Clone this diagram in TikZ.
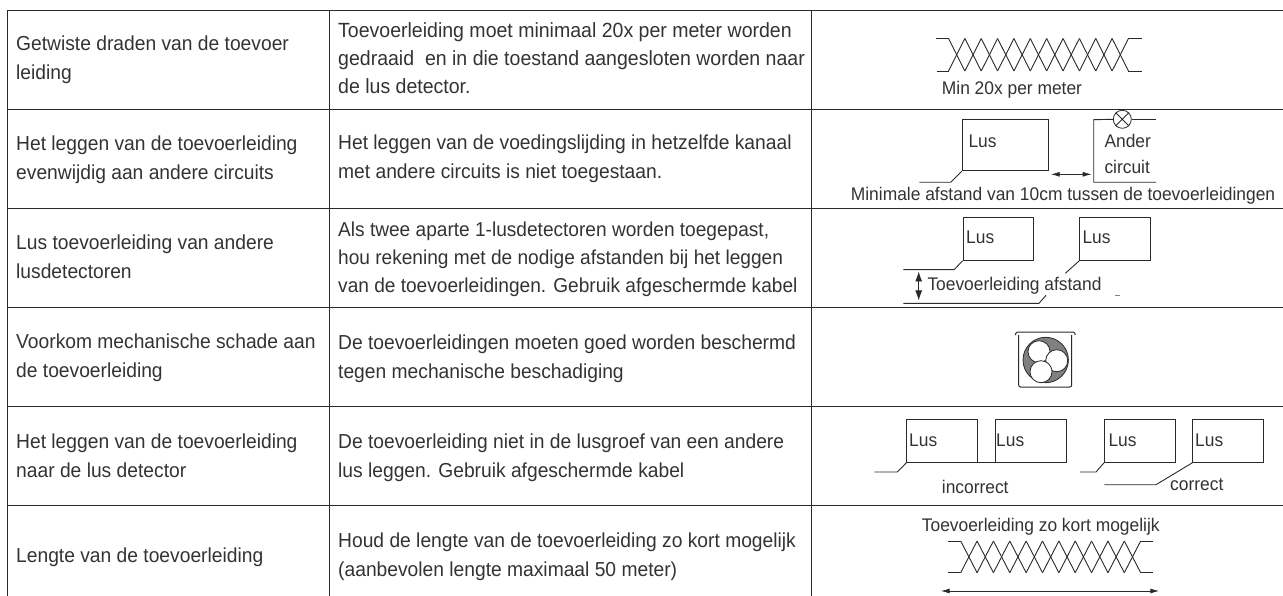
\documentclass[tikz,border=0pt]{standalone}
\usepackage{fontspec}
\setmainfont[FakeStretch=0.95]{Liberation Sans}
\usetikzlibrary{arrows.meta}
\definecolor{ink}{HTML}{333333}
\definecolor{rule}{HTML}{2A2A2A}
\newcommand{\twistpair}[3]{% x-start, y-top, y-bottom
  \foreach \k in {0,...,10}{
    \pgfmathsetmacro{\xa}{#1+16.36*\k}
    \pgfmathsetmacro{\xb}{#1+16.36*(\k+1)}
    \pgfmathtruncatemacro{\oddk}{mod(\k,2)}
    \ifnum\oddk=0
      \draw[wire] (\xa,#2) -- (\xb,#3);
      \draw[wire] (\xa,#3) -- (\xb,#2);
    \else
      \draw[wire] (\xa,#3) -- (\xb,#2);
      \draw[wire] (\xa,#2) -- (\xb,#3);
    \fi
  }
}
\tikzset{
  grid/.style={draw=rule,line width=1pt},
  wire/.style={draw=rule,line width=0.9pt},
  cell/.style={anchor=base west,inner sep=0pt,align=left,text=ink,font=\fontsize{20.25}{29}\selectfont},
  lbl/.style={anchor=base west,inner sep=0pt,text=ink,font=\fontsize{18.3}{24}\selectfont},
  lusbox/.style={draw=rule,line width=1.1pt,anchor=north west,inner sep=0pt,minimum width=#1,minimum height=43pt},
  dim/.style={wire,{Latex[length=9pt,width=5pt]}-{Latex[length=9pt,width=5pt]}},
  dimv/.style={wire,{Latex[length=10pt,width=7pt]}-{Latex[length=10pt,width=7pt]}},
}
\begin{document}
\begin{tikzpicture}[x=1pt,y=-1pt]
\useasboundingbox (0,0) rectangle (1283,596);
% table grid
\coordinate (tl) at (7,10.5);
\coordinate (tr) at (1283,10.5);
\draw[grid] (tl) -- (tr);
\foreach \yy in {109.5,208.5,307,406.7,505.5}{\draw[grid] (7,\yy) -- (1283,\yy);}
\foreach \xx in {7,329,811}{\draw[grid] (\xx,10.5) -- (\xx,596);}
% column 1
\node[cell] (a1) at (16,80) {Getwiste draden van de toevoer\\leiding};
\node[cell] (a2) at (16,180) {Het leggen van de toevoerleiding\\evenwijdig aan andere circuits};
\node[cell] (a3) at (16,279) {Lus toevoerleiding van andere\\lusdetectoren};
\node[cell] (a4) at (16,377) {Voorkom mechanische schade aan\\de toevoerleiding};
\node[cell] (a5) at (16,477) {Het leggen van de toevoerleiding\\naar de lus detector};
\node[cell] (a6) at (16,562) {Lengte van de toevoerleiding};
% column 2
\node[cell,font=\fontsize{20.55}{28}\selectfont] (b1) at (338,94) {Toevoerleiding moet minimaal 20x per meter worden\\gedraaid\ \ en in die toestand aangesloten worden naar\\de lus detector.};
\node[cell] (b2) at (338,179) {Het leggen van de voedingslijding in hetzelfde kanaal\\met andere circuits is niet toegestaan.};
\node[cell,font=\fontsize{20.1}{28.5}\selectfont] (b3) at (338,293) {Als twee aparte 1-lusdetectoren worden toegepast,\\hou rekening met de nodige afstanden bij het leggen\\van de toevoerleidingen. Gebruik afgeschermde kabel};
\node[cell] (b4) at (338,378) {De toevoerleidingen moeten goed worden beschermd\\tegen mechanische beschadiging};
\node[cell] (b5) at (338,477) {De toevoerleiding niet in de lusgroef van een andere\\lus leggen. Gebruik afgeschermde kabel};
\node[cell] (b6) at (338,576) {Houd de lengte van de toevoerleiding zo kort mogelijk\\(aanbevolen lengte maximaal 50 meter)};
% row 1 drawing
\twistpair{948.5}{38.5}{71}
\draw[wire] (935.7,38.5) -- (948.5,38.5) (936.5,71) -- (948.5,71) (1128.4,38.8) -- (1142,38.8) (1128.4,71) -- (1142,71);
\node[lbl] (t1) at (941.7,95) {Min 20x per meter};
% row 2 drawing
\node[lusbox=86.6pt,minimum height=51.3pt] (l21) at (961.7,119) {};
\node[lbl] at (968.3,148) {Lus};
\coordinate (l21a) at (950.7,182.3);
\coordinate (l21b) at (919.3,182.3);
\draw[wire] (l21.south west) -- (l21a) -- (l21b);
\coordinate (c1) at (1093.7,119.7);
\coordinate (c2) at (1093.7,182.3);
\coordinate (c3) at (1156,182.3);
\coordinate (c4) at (1156,119.3);
\node[draw=rule,line width=0.8pt,circle,inner sep=0pt,minimum size=18pt] (lamp) at (1122.3,119.3) {};
\draw[wire] (lamp.west) -- (c1) -- (c2) -- (c3);
\draw[wire] (lamp.east) -- (c4);
\draw[wire] (lamp.north west) -- (lamp.south east) (lamp.north east) -- (lamp.south west);
\node[lbl] (anl) at (1104.3,147.7) {Ander};
\node[lbl] (cir) at (1104.3,174) {circuit};
\coordinate (d1) at (1050.7,174.3);
\coordinate (d2) at (1091.7,174.3);
\draw[dim] (d1) -- (d2);
\node[lbl] (t2) at (850.7,201) {Minimale afstand van 10cm tussen de toevoerleidingen};
% row 3 drawing
\node[lusbox=70.6pt] (l31) at (962.7,216.7) {};
\node[lusbox=71pt] (l32) at (1079.3,216.7) {};
\node[lbl] at (966,243.3) {Lus};
\node[lbl] at (1082.3,243.3) {Lus};
\coordinate (p1) at (954,269.7);
\coordinate (p2) at (903.3,269.7);
\coordinate (p3) at (1065.3,273.3);
\coordinate (p4) at (1046,295.3);
\coordinate (p5) at (1039,303.3);
\coordinate (p6) at (903.3,303.3);
\draw[wire] (l31.south west) -- (p1) -- (p2);
\draw[wire] (l32.south west) -- (p3);
\draw[wire] (p4) -- (p5) -- (p6);
\coordinate (q1) at (918.7,271.5);
\coordinate (q2) at (918.7,300.5);
\draw[dimv] (q1) -- (q2);
\node[lbl] (t3) at (927.3,290.7) {Toevoerleiding afstand};
\draw[draw=gray,line width=0.6pt] (1115,295.3) -- (1120,295.3);
% row 4 drawing
\draw[wire,line width=1pt,rounded corners=1.5pt] (1015.7,335) -- (1015.7,332) -- (1075,332) -- (1075,335);
\draw[wire,line width=1pt,rounded corners=2pt] (1018.7,335) -- (1018.7,387) -- (1071.7,387) -- (1071.7,335);
\node[draw=rule,line width=0.8pt,fill=black!50,circle,inner sep=0pt,minimum size=45.4pt] (cable) at (1045.7,360) {};
\node[draw=rule,line width=0.8pt,fill=white,circle,inner sep=0pt,minimum size=22pt] (w1) at (1039,351.7) {};
\node[draw=rule,line width=0.8pt,fill=white,circle,inner sep=0pt,minimum size=22pt] (w2) at (1056.7,360.7) {};
\node[draw=rule,line width=0.8pt,fill=white,circle,inner sep=0pt,minimum size=22pt] (w3) at (1041,371.7) {};
% row 5 drawing
\node[lusbox=71pt] (l51) at (906.3,418.7) {};
\node[lusbox=71pt] (l52) at (994.7,418.7) {};
\node[lusbox=71.3pt] (l53) at (1104,418.7) {};
\node[lusbox=71pt] (l54) at (1192.3,418.7) {};
\node[lbl] at (909,446.7) {Lus};
\node[lbl] at (996,446.7) {Lus};
\node[lbl] at (1108.3,446.7) {Lus};
\node[lbl] at (1195,446.7) {Lus};
\coordinate (r1) at (897.3,472);
\coordinate (r2) at (874.3,472);
\coordinate (r3) at (1096,472);
\coordinate (r4) at (1080,472);
\coordinate (r5) at (1156,484.7);
\coordinate (r6) at (1104.3,484.7);
\draw[wire] (l51.south west) -- (r1) -- (r2);
\draw[wire] (l51.south east) -- (l52.south west);
\draw[wire] (l53.south west) -- (r3) -- (r4);
\draw[wire] (l54.south west) -- (r5) -- (r6);
\node[lbl] (t5a) at (941.7,493.7) {incorrect};
\node[lbl] (t5b) at (1170,490) {correct};
% row 6 drawing
\node[lbl] (t6) at (921.7,531) {Toevoerleiding zo kort mogelijk};
\twistpair{960.7}{541}{572.7}
\draw[wire] (948.3,541) -- (960.7,541) (948.3,572.7) -- (960.7,572.7) (1140.7,541) -- (1153.3,541) (1140.7,572.7) -- (1153.3,572.7);
\coordinate (s1) at (940.7,591);
\coordinate (s2) at (1159.3,591);
\draw[dim] (s1) -- (s2);
\end{tikzpicture}
\end{document}
